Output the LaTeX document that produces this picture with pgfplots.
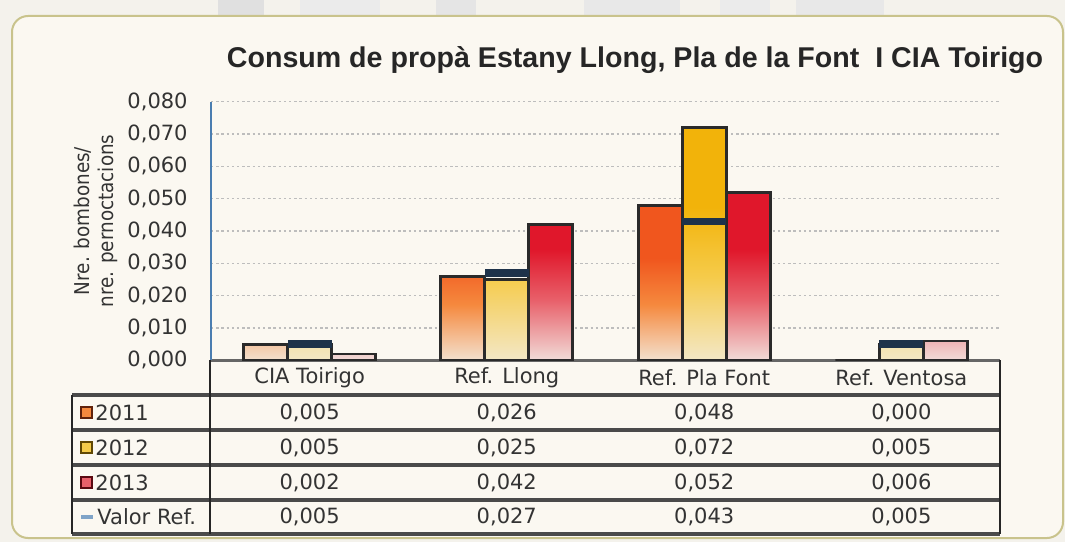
\documentclass[border=0pt]{standalone}
\usepackage{fontspec}
\setmainfont{DejaVu Sans}
\newfontfamily\titlefont{Liberation Sans}
\newfontfamily\condfont[FakeStretch=0.9]{DejaVu Sans}
\usepackage{pgfplots}
\usepackage{pgfplotstable}
\pgfplotsset{compat=1.18}

\definecolor{o1}{HTML}{F0561E}
\definecolor{o1m}{HTML}{F5893E}
\definecolor{o1l}{HTML}{F3E1CF}
\definecolor{y1}{HTML}{F2B30A}
\definecolor{y1m}{HTML}{F5CB4A}
\definecolor{y1l}{HTML}{F3E7C6}
\definecolor{r1}{HTML}{E0172B}
\definecolor{r1m}{HTML}{E8606A}
\definecolor{r1l}{HTML}{F1DCD8}
\definecolor{bgout}{HTML}{F4F2EC}
\definecolor{bgin}{HTML}{FBF8F1}
\definecolor{boxc}{HTML}{C9C38C}
\definecolor{txt}{HTML}{333333}
\definecolor{axisgray}{HTML}{666666}
\definecolor{axisblue}{HTML}{4A7DB0}
\definecolor{refc}{HTML}{1E324A}
\definecolor{barline}{HTML}{2A2A2A}
\definecolor{gridc}{HTML}{BDBDBD}
\definecolor{tabline}{HTML}{4A4A4A}

\pgfdeclareverticalshading{sh2011}{100bp}{color(0bp)=(o1l); color(25bp)=(o1l); color(43bp)=(o1m); color(58bp)=(o1); color(100bp)=(o1)}
\pgfdeclareverticalshading{sh2012}{100bp}{color(0bp)=(y1l); color(25bp)=(y1l); color(43bp)=(y1m); color(58bp)=(y1); color(100bp)=(y1)}
\pgfdeclareverticalshading{sh2013}{100bp}{color(0bp)=(r1l); color(25bp)=(r1l); color(43bp)=(r1m); color(58bp)=(r1); color(100bp)=(r1)}

\pgfplotstableread{
x a b c r
0 0.005 0.005 0.002 0.005
1 0.026 0.025 0.042 0.027
2 0.048 0.072 0.052 0.043
3 0.000 0.005 0.006 0.005
}\data

\begin{document}
\begin{tikzpicture}
% background
\fill[bgout] (0,0) rectangle (532.5pt,271pt);
\fill[black!12] (109pt,263pt) rectangle (132pt,271pt);
\fill[black!8] (150pt,263pt) rectangle (190pt,271pt);
\fill[black!10] (218pt,263pt) rectangle (238pt,271pt);
\fill[black!9] (292pt,263pt) rectangle (340pt,271pt);
\fill[black!8] (360pt,263pt) rectangle (385pt,271pt);
\fill[black!9] (398pt,263pt) rectangle (442pt,271pt);
\draw[boxc, line width=1pt, fill=bgin, rounded corners=8pt] (6pt,2pt) rectangle (531.5pt,263pt);

% title
\node[font=\titlefont\bfseries\fontsize{14.3}{17}\selectfont, text=black!85] at (317.5pt,241pt) {Consum de propà Estany Llong, Pla de la Font~~I CIA Toirigo};
% y label
\node[rotate=90, align=center, text=black!80, font=\condfont\fontsize{10.2}{12}\selectfont] at (48pt,160.5pt) {Nre. bombones/\\nre. pernoctacions};

\begin{axis}[
  at={(105.5pt,90.8pt)}, anchor=south west,
  scale only axis, width=394.5pt, height=129.35pt,
  xmin=-0.5, xmax=3.5, ymin=0, ymax=0.08,
  xtick=\empty,
  ytick={0,0.01,0.02,0.03,0.04,0.05,0.06,0.07,0.08},
  scaled y ticks=false,
  ymajorgrids,
  grid style={gridc, line width=0.7pt, dash pattern=on 1.2pt off 1.4pt},
  axis x line*=bottom, axis y line*=left,
  x axis line style={-, line width=1.6pt, color=axisgray},
  y axis line style={-, line width=0.8pt, color=axisblue},
  major tick length=0pt,
  yticklabel style={/pgf/number format/.cd, fixed, fixed zerofill, precision=3, use comma, assume math mode=true, /tikz/.cd,
    font=\fontsize{10.5}{12}\selectfont, text=txt, inner sep=0pt, xshift=-11.5pt},
]
\addplot[ybar, bar width=22pt, bar shift=-22pt, draw=barline, line width=1.4pt, shade, shading=sh2011] table[x=x,y=a]{\data};
\addplot[ybar, bar width=22pt, bar shift=0pt, draw=barline, line width=1.4pt, shade, shading=sh2012] table[x=x,y=b]{\data};
\addplot[ybar, bar width=22pt, bar shift=22pt, draw=barline, line width=1.4pt, shade, shading=sh2013] table[x=x,y=c]{\data};
\addplot[only marks, mark=-, mark size=11pt, mark options={line width=3.8pt, color=refc}] table[x=x,y=r]{\data};
\end{axis}

% data table
\begin{scope}[tabline, line width=1.6pt]
\draw (36pt,73.5pt) -- (500pt,73.5pt);
\draw (36pt,56pt) -- (500pt,56pt);
\draw (36pt,38.5pt) -- (500pt,38.5pt);
\draw (36pt,21pt) -- (500pt,21pt);
\draw (36pt,4pt) -- (500pt,4pt);
\end{scope}
\draw[black!85, line width=1pt] (105pt,90.8pt) -- (105pt,4pt);
\draw[black!85, line width=1pt] (36pt,73.5pt) -- (36pt,4pt);
\draw[black!85, line width=1pt] (500pt,90.8pt) -- (500pt,4pt);

\begin{scope}[every node/.style={font=\fontsize{10.5}{12}\selectfont, text=txt, inner sep=0pt}]
\node at (154.8pt,82.25pt) {CIA Toirigo};
\node at (253.4pt,82.25pt) {Ref. Llong};
\node at (352.1pt,82.25pt) {Ref. Pla Font};
\node at (450.7pt,82.25pt) {Ref. Ventosa};

\node at (154.8pt,64.75pt) {0,005};
\node at (253.4pt,64.75pt) {0,026};
\node at (352.1pt,64.75pt) {0,048};
\node at (450.7pt,64.75pt) {0,000};

\node at (154.8pt,47.25pt) {0,005};
\node at (253.4pt,47.25pt) {0,025};
\node at (352.1pt,47.25pt) {0,072};
\node at (450.7pt,47.25pt) {0,005};

\node at (154.8pt,29.75pt) {0,002};
\node at (253.4pt,29.75pt) {0,042};
\node at (352.1pt,29.75pt) {0,052};
\node at (450.7pt,29.75pt) {0,006};

\node at (154.8pt,12.5pt) {0,005};
\node at (253.4pt,12.5pt) {0,027};
\node at (352.1pt,12.5pt) {0,043};
\node at (450.7pt,12.5pt) {0,005};

\node[anchor=west] at (47.5pt,64.75pt) {2011};
\node[anchor=west] at (47.5pt,47.25pt) {2012};
\node[anchor=west] at (47.5pt,29.75pt) {2013};
\node[anchor=west] at (48.5pt,12.5pt) {Valor Ref.};
\end{scope}
\draw[fill=o1m, draw=black!60!o1, line width=0.6pt] (40.5pt,62pt) rectangle (46pt,67.5pt);
\draw[fill=y1m, draw=black!60!y1, line width=0.6pt] (40.5pt,44.5pt) rectangle (46pt,50pt);
\draw[fill=r1m, draw=black!60!r1, line width=0.6pt] (40.5pt,27pt) rectangle (46pt,32.5pt);
\draw[color=axisblue!70, line width=1.6pt] (40.5pt,12.5pt) -- (46.5pt,12.5pt);
\end{tikzpicture}
\end{document}
